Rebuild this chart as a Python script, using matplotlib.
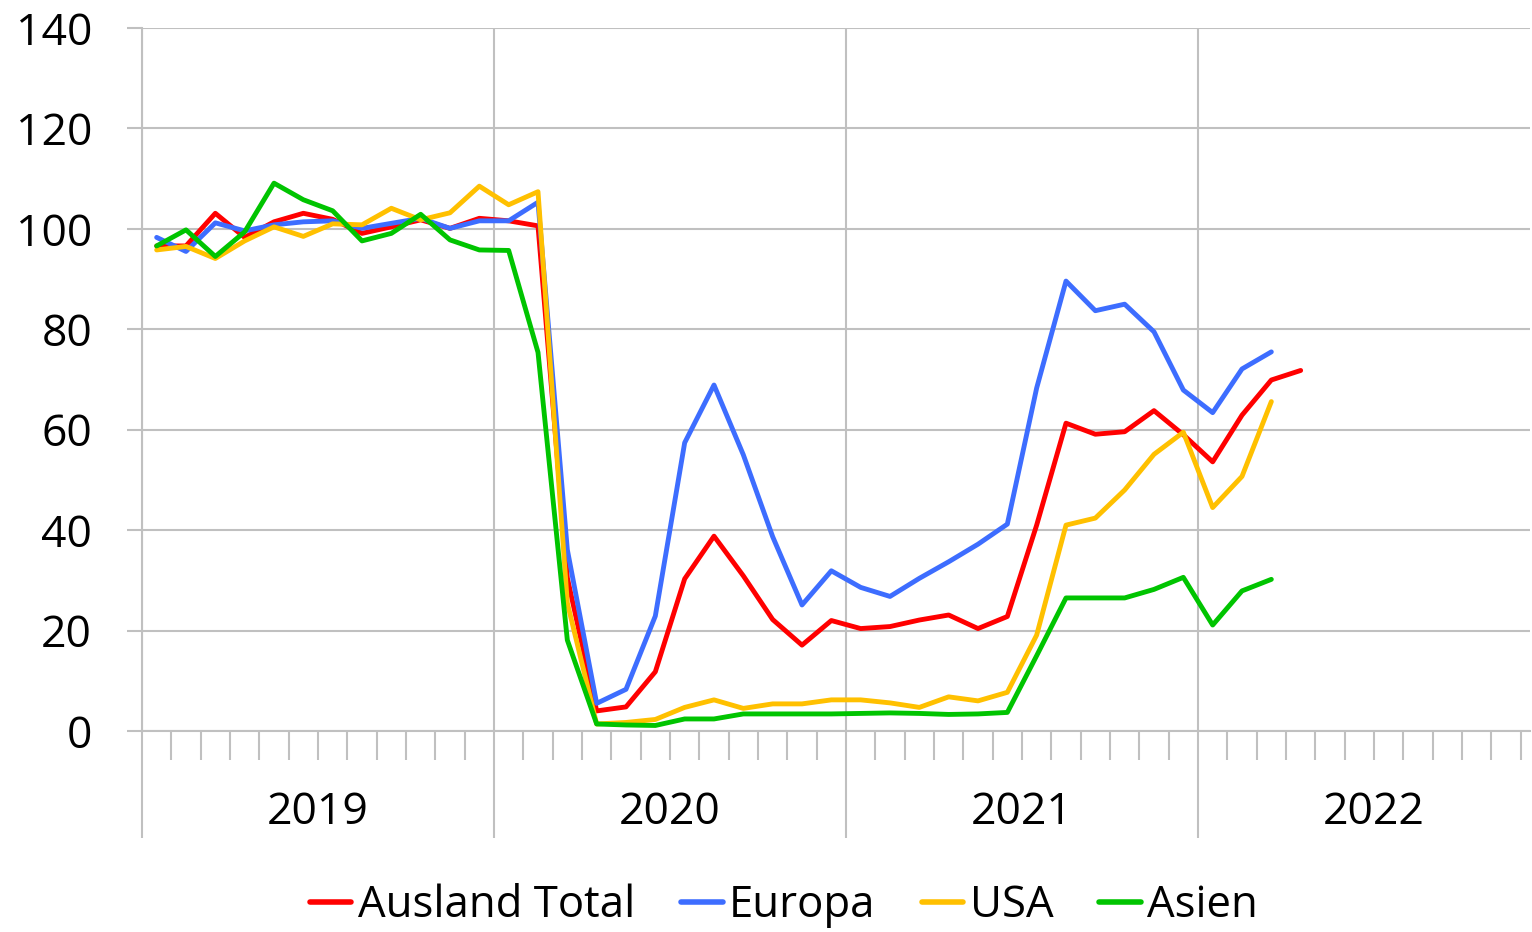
import matplotlib
matplotlib.use("Agg")
import matplotlib.pyplot as plt
from matplotlib import font_manager
import numpy as np

years = ["2019", "2020", "2021", "2022"]
series_names = ["Ausland Total", "Europa", "USA", "Asien"]
ausland_total = [96.6, 96.6, 103.1, 98.3, 101.4, 103.1, 101.9, 99.1, 100.4, 101.8, 100.1, 102.1,
                 101.6, 100.6, 30.5, 4.0, 4.8, 11.8, 30.3, 38.8, 30.9, 22.2, 17.1, 22.0,
                 20.4, 20.8, 22.1, 23.1, 20.4, 22.8, 41.0, 61.3, 59.1, 59.6, 63.8, 59.0,
                 53.6, 62.9, 69.9, 71.8]
europa = [98.3, 95.5, 101.2, 99.6, 100.8, 101.4, 101.6, 100.1, 101.1, 102.1, 100.1, 101.6,
          101.6, 105.3, 36.1, 5.5, 8.3, 22.9, 57.4, 68.9, 55.0, 38.7, 25.1, 31.9,
          28.6, 26.8, 30.4, 33.7, 37.2, 41.2, 68.3, 89.6, 83.7, 85.0, 79.5, 67.9,
          63.4, 72.1, 75.5, None]
usa = [95.8, 96.5, 94.1, 97.6, 100.4, 98.5, 101.0, 100.8, 104.1, 101.8, 103.2, 108.5,
       104.8, 107.4, 25.5, 1.4, 1.7, 2.3, 4.7, 6.2, 4.5, 5.4, 5.4, 6.2,
       6.2, 5.6, 4.7, 6.8, 6.0, 7.7, 19.1, 41.0, 42.4, 48.0, 55.1, 59.5,
       44.5, 50.7, 65.6, None]
asien = [96.6, 99.8, 94.5, 99.4, 109.1, 105.8, 103.6, 97.6, 99.1, 102.9, 97.8, 95.8,
         95.7, 75.4, 18.1, 1.4, 1.2, 1.1, 2.4, 2.4, 3.4, 3.4, 3.4, 3.4,
         3.5, 3.6, 3.5, 3.3, 3.4, 3.7, 15.0, 26.5, 26.5, 26.5, 28.2, 30.6,
         21.1, 27.9, 30.2, None]
colors = ["#FF0000", "#3D6DFF", "#FFC000", "#00C400"]
y_ticks = [0, 20, 40, 60, 80, 100, 120, 140]

avail = {f.name for f in font_manager.fontManager.ttflist}
tick_font = "Open Sans" if "Open Sans" in avail else "DejaVu Sans"
leg_font = "Liberation Sans Narrow" if "Liberation Sans Narrow" in avail else tick_font

W, H = 1532, 932
fig = plt.figure(figsize=(W / 100, H / 100), dpi=100)
ax = fig.add_axes([142 / W, 1 - 731 / H, (1530 - 142) / W, (731 - 28) / H])

n_months = 12 * len(years)
grid_c = "#C0C0C0"
for vals, c, name in zip([ausland_total, europa, usa, asien], colors, series_names):
    v = np.array([np.nan if x is None else x for x in vals], dtype=float)
    xs = np.arange(len(v)) + 0.5
    ax.plot(xs, v, color=c, lw=3.5, label=name, solid_joinstyle="round", solid_capstyle="round", zorder=3)

ax.set_yticks(y_ticks)
ax.set_yticklabels([str(t) for t in y_ticks], fontsize=32, family=tick_font, color="#000000")
ax.tick_params(axis="y", length=11, width=1.5, color=grid_c, pad=25)

ax.set_xticks(np.arange(0, n_months + 1, 12))
ax.set_xticklabels([])
ax.set_xticks(np.arange(0, n_months + 1, 1), minor=True)
ax.tick_params(axis="x", which="major", length=77, width=1.5, color=grid_c)
ax.tick_params(axis="x", which="minor", length=21, width=1.5, color=grid_c)

ax.set_ylim(0, 140)
ax.set_xlim(0, (1530 - 142) / ((846 - 142) / 24))

ax.grid(True, axis="both", which="major", color=grid_c, lw=1.5, zorder=0)
ax.set_axisbelow(True)
for s in ["top", "right"]:
    ax.spines[s].set_visible(False)
for s in ["left", "bottom"]:
    ax.spines[s].set_color(grid_c)
    ax.spines[s].set_linewidth(1.5)

trans = ax.get_xaxis_transform()
for i, yr in enumerate(years):
    ax.text(12 * i + 6, -(813 - 731) / (731 - 28), yr, transform=trans, ha="center", va="center",
            fontsize=32, family=tick_font, color="#000000", clip_on=False)

leg = fig.legend(loc="center", bbox_to_anchor=(784 / W, 1 - 906 / H), ncol=4, frameon=False,
                 prop={"family": leg_font, "size": 31.5}, handlelength=0.95, handletextpad=0.15,
                 columnspacing=1.05, borderaxespad=0)
for line in leg.get_lines():
    line.set_linewidth(4)

fig.savefig("out.png", dpi=100, facecolor="white")
